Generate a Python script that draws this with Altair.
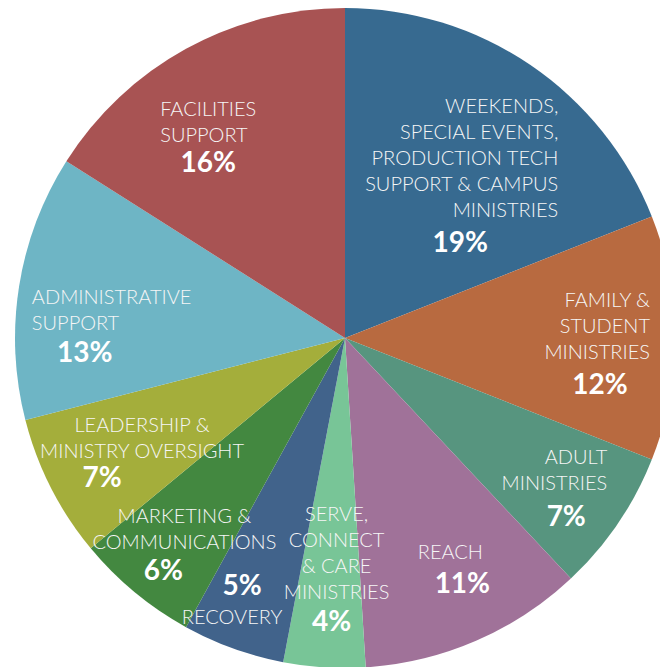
import math
import altair as alt
import pandas as pd

# ---- data -------------------------------------------------------------
keys = ["weekends", "family", "adult", "reach", "serve",
        "recovery", "marketing", "leadership", "admin", "facilities"]
labels = [
    "WEEKENDS,\nSPECIAL EVENTS,\nPRODUCTION TECH\nSUPPORT & CAMPUS\nMINISTRIES",
    "FAMILY &\nSTUDENT\nMINISTRIES",
    "ADULT\nMINISTRIES",
    "REACH",
    "SERVE,\nCONNECT\n& CARE\nMINISTRIES",
    "RECOVERY",
    "MARKETING &\nCOMMUNICATIONS",
    "LEADERSHIP &\nMINISTRY OVERSIGHT",
    "ADMINISTRATIVE\nSUPPORT",
    "FACILITIES\nSUPPORT",
]
shares = [19, 12, 7, 11, 4, 5, 6, 7, 13, 16]

# ---- styles -------------------------------------------------------------
colors = ["#376A90", "#B86A40", "#57957F", "#A07299", "#78C597",
          "#41638B", "#438840", "#A4AE3B", "#6EB5C5", "#A85353"]

# label placement: align, name dx, name dy, pct dx, pct dy (offsets from slice mid-angle point)
label_layout = {
    "weekends":   ("right", 84, -40.5, -14, 96),
    "family":     ("right", 75, -37, 25, 48),
    "adult":      ("right", 72, -9.5, 31, 51),
    "reach":      ("center", 14, 3.5, 26, 36),
    "serve":      ("center", 6, -53, 1, 55),
    "recovery":   ("center", -35, 64, -25, 33),
    "marketing":  ("center", -14, 1.5, -35, 57),
    "leadership": ("center", 2, -16.5, -38, 37),
    "admin":      ("left", -86, -4.5, -33, 52),
    "facilities": ("left", -74, -26.5, -26, 28),
}

df = pd.DataFrame({
    "key": keys,
    "label": labels,
    "share": shares,
    "pct": [f"{s}%" for s in shares],
    "order": list(range(len(keys))),
})

theta_scale = alt.Scale(domain=[0, 100], range=[0, 2 * math.pi])

base = (
    alt.Chart(df)
    .transform_window(cum="sum(share)", sort=[alt.SortField("order")])
    .transform_calculate(start="datum.cum - datum.share",
                         mid="datum.cum - datum.share / 2")
)

pie = base.mark_arc(radius=330).encode(
    theta=alt.Theta("start:Q", scale=theta_scale, stack=False),
    theta2="cum:Q",
    color=alt.Color("key:N", scale=alt.Scale(domain=keys, range=colors), legend=None),
)

layers = [pie]
for k in keys:
    align, ndx, ndy, pdx, pdy = label_layout[k]
    sub = base.transform_filter(alt.datum.key == k)
    layers.append(
        sub.mark_text(
            radius=230, align=align, baseline="middle", dx=ndx, dy=ndy,
            font="Lato", fontWeight=300, fontSize=20, lineHeight=26,
            lineBreak="\n", color="#f6f6f6",
        ).encode(theta=alt.Theta("mid:Q", scale=theta_scale, stack=False),
                 text="label:N")
    )
    layers.append(
        sub.mark_text(
            radius=230, align="center", baseline="middle", dx=pdx, dy=pdy,
            font="Lato", fontWeight="bold", fontSize=28, color="white",
        ).encode(theta=alt.Theta("mid:Q", scale=theta_scale, stack=False),
                 text="pct:N")
    )

chart = (
    alt.layer(*layers)
    .properties(width=630, height=658,
                padding={"left": 30, "top": 9, "right": 0, "bottom": 0},
                autosize=alt.AutoSizeParams(type="none"))
    .configure_view(stroke=None)
)

chart.save("out.html", embed_options={"renderer": "svg", "actions": False})
